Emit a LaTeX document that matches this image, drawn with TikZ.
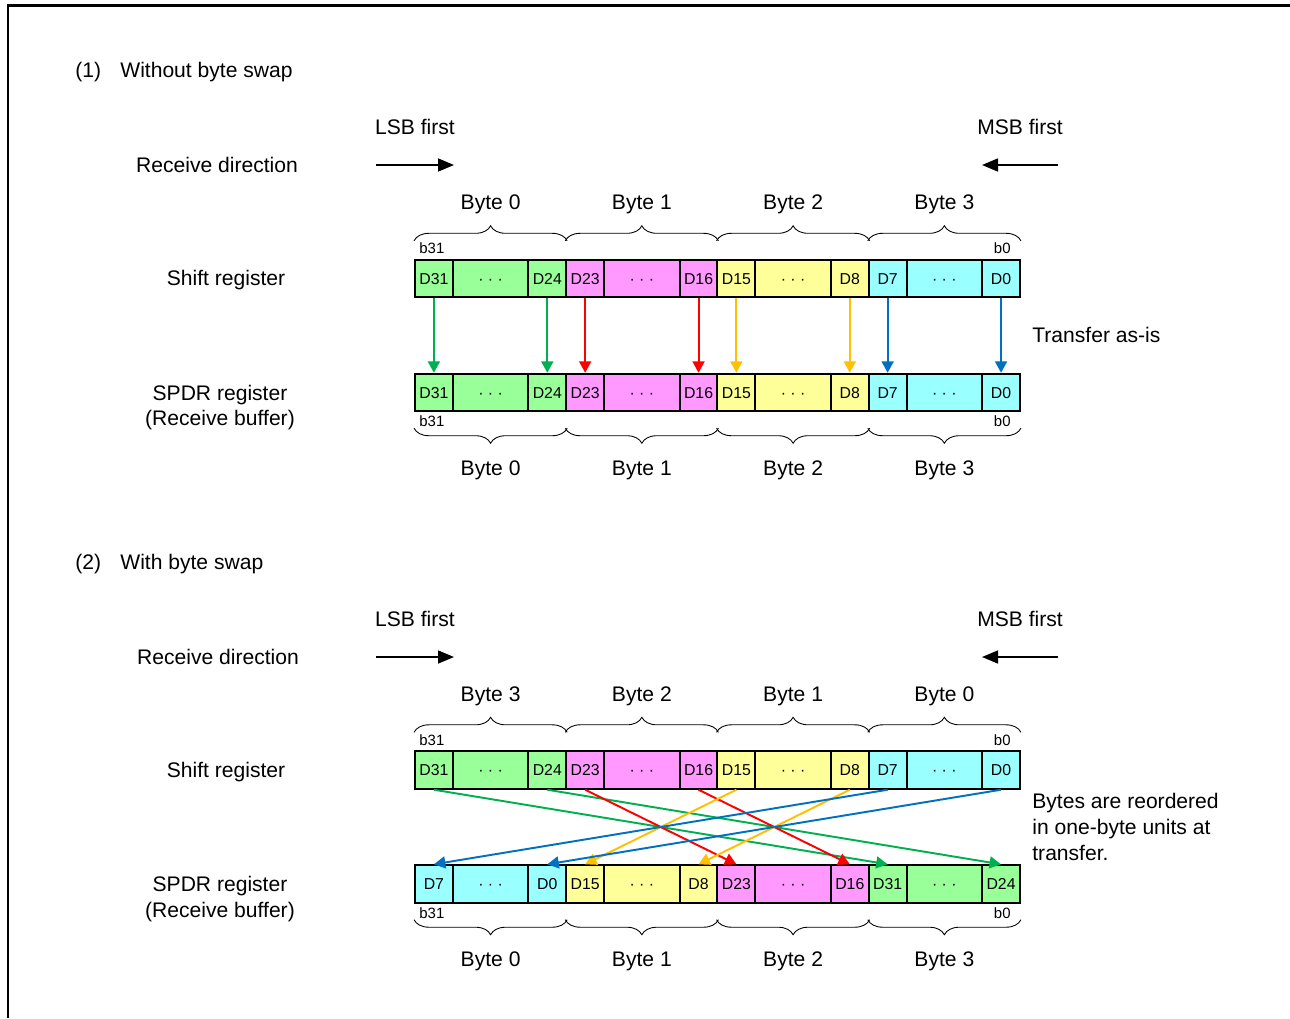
\documentclass[tikz,border=0pt]{standalone}
\usepackage{fontspec}
\setmainfont{Liberation Sans}
\usetikzlibrary{arrows.meta,positioning,decorations.pathreplacing,calc}
\definecolor{CellGreen}{HTML}{99FF99}
\definecolor{CellPink}{HTML}{FF99FF}
\definecolor{CellYellow}{HTML}{FFFF99}
\definecolor{CellCyan}{HTML}{99FFFF}
\definecolor{LineGreen}{HTML}{00B050}
\definecolor{LineRed}{HTML}{FF0000}
\definecolor{LineAmber}{HTML}{FFC000}
\definecolor{LineBlue}{HTML}{0070C0}

\begin{document}
\begin{tikzpicture}[x=0.02cm,y=-0.02cm,
    txt/.style={font=\fontsize{12}{14.7}\selectfont,inner sep=0pt},
    cell/.style={draw,line width=1.1pt,minimum height=0.75cm,inner sep=0pt,
      text height=6.5pt,text depth=0pt,font=\fontsize{9}{10}\selectfont},
    bit/.style={cell,minimum width=0.756cm},
    gap/.style={cell,minimum width=1.512cm},
    bitno/.style={font=\fontsize{8.5}{10}\selectfont,inner sep=0pt},
    bytebrace/.style={decorate,decoration={brace,amplitude=0.3cm},line width=0.5pt},
    dir/.style={line width=0.9pt,-{Triangle[length=3.2mm,width=2.6mm]}},
    move/.style={line width=1.1pt,-{Triangle[length=2.3mm,width=2.4mm]}}
  ]
    \useasboundingbox (0,0) rectangle (1290,1018);
    \draw[line width=0.06cm] (1290,5) -- (8,5) -- (8,1018);

    \node[txt,anchor=west] (num1) at (75,72) {(1)};
    \node[txt,anchor=west] (head1) at (120,72) {Without byte swap};
    \node[txt] (lsb1) at (415,127) {LSB first};
    \node[txt] (msb1) at (1020,127) {MSB first};
    \coordinate (lsbA1) at (376,165);
    \coordinate (lsbB1) at (454,165);
    \coordinate (msbA1) at (1058,165);
    \coordinate (msbB1) at (982,165);
    \draw[dir] (lsbA1) -- (lsbB1);
    \draw[dir] (msbA1) -- (msbB1);
    \node[txt] (dir1) at (217,165) {Receive direction};
    \node[txt] (shift1) at (226,280.5) {Shift register};
    \node[txt,align=center] (spdr1) at (220,407.5) {SPDR register\\(Receive buffer)};
    \node[txt,anchor=west] (note1) at (1032,335) {Transfer as-is};

    \foreach \b/\hi/\lo/\c in {0/31/24/CellGreen,1/23/16/CellPink,2/15/8/CellYellow,3/7/0/CellCyan}{
      \node[bit,fill=\c] (sD\hi) at (433.9+151.25*\b,278.5) {D\hi};
      \node[gap,fill=\c] (sM\b) at (490.6+151.25*\b,278.5) {· · ·};
      \node[bit,fill=\c] (sD\lo) at (547.3+151.25*\b,278.5) {D\lo};
      \node[bit,fill=\c] (rD\hi) at (433.9+151.25*\b,392.5) {D\hi};
      \node[gap,fill=\c] (rM\b) at (490.6+151.25*\b,392.5) {· · ·};
      \node[bit,fill=\c] (rD\lo) at (547.3+151.25*\b,392.5) {D\lo};
    }
    \node[bitno,anchor=south west] (sB31) at ([xshift=0.1cm,yshift=0.09cm]sD31.north west) {b31};
    \node[bitno,anchor=south east] (sB0) at ([xshift=-0.2cm,yshift=0.09cm]sD0.north east) {b0};
    \node[bitno,anchor=north west] (rB31) at ([xshift=0.1cm,yshift=-0.07cm]rD31.south west) {b31};
    \node[bitno,anchor=north east] (rB0) at ([xshift=-0.2cm,yshift=-0.07cm]rD0.south east) {b0};
    \foreach \a/\b/\t in {31/24/0,23/16/1,15/8/2,7/0/3}{
      \draw[bytebrace] ([yshift=0.36cm]sD\a.north west) -- ([yshift=0.36cm]sD\b.north east);
      \node[txt] (sByte\t) at ($(sD\a.north west)!0.5!(sD\b.north east)+(0,-54)$) {Byte \t};
      \draw[bytebrace] ([yshift=-0.32cm]rD\b.south east) -- ([yshift=-0.32cm]rD\a.south west);
      \node[txt] (rByte\t) at ($(rD\a.south west)!0.5!(rD\b.south east)+(0,58)$) {Byte \t};
    }
    \foreach \n/\c in {31/LineGreen,24/LineGreen,23/LineRed,16/LineRed,15/LineAmber,8/LineAmber,7/LineBlue,0/LineBlue}
      \draw[move,\c] (sD\n.south) -- (rD\n.north);

    \node[txt,anchor=west] (num2) at (75,564) {(2)};
    \node[txt,anchor=west] (head2) at (120,564) {With byte swap};
    \node[txt] (lsb2) at (415,619) {LSB first};
    \node[txt] (msb2) at (1020,619) {MSB first};
    \coordinate (lsbA2) at (376,657);
    \coordinate (lsbB2) at (454,657);
    \coordinate (msbA2) at (1058,657);
    \coordinate (msbB2) at (982,657);
    \draw[dir] (lsbA2) -- (lsbB2);
    \draw[dir] (msbA2) -- (msbB2);
    \node[txt] (dir2) at (218,657) {Receive direction};
    \node[txt] (shift2) at (226,772) {Shift register};
    \node[txt,align=center] (spdr2) at (220,899) {SPDR register\\(Receive buffer)};
    \node[txt,anchor=west,align=left] (note2) at (1032,827) {Bytes are reordered\\in one-byte units at\\transfer.};

    \foreach \b/\hi/\lo/\c in {0/31/24/CellGreen,1/23/16/CellPink,2/15/8/CellYellow,3/7/0/CellCyan}{
      \node[bit,fill=\c] (tD\hi) at (433.9+151.25*\b,770) {D\hi};
      \node[gap,fill=\c] (tM\b) at (490.6+151.25*\b,770) {· · ·};
      \node[bit,fill=\c] (tD\lo) at (547.3+151.25*\b,770) {D\lo};
    }
    \foreach \b/\hi/\lo/\c in {0/7/0/CellCyan,1/15/8/CellYellow,2/23/16/CellPink,3/31/24/CellGreen}{
      \node[bit,fill=\c] (uD\hi) at (433.9+151.25*\b,884) {D\hi};
      \node[gap,fill=\c] (uM\b) at (490.6+151.25*\b,884) {· · ·};
      \node[bit,fill=\c] (uD\lo) at (547.3+151.25*\b,884) {D\lo};
    }
    \node[bitno,anchor=south west] (tB31) at ([xshift=0.1cm,yshift=0.09cm]tD31.north west) {b31};
    \node[bitno,anchor=south east] (tB0) at ([xshift=-0.2cm,yshift=0.09cm]tD0.north east) {b0};
    \node[bitno,anchor=north west] (uB31) at ([xshift=0.1cm,yshift=-0.07cm]uD7.south west) {b31};
    \node[bitno,anchor=north east] (uB0) at ([xshift=-0.2cm,yshift=-0.07cm]uD24.south east) {b0};
    \foreach \a/\b/\t in {31/24/3,23/16/2,15/8/1,7/0/0}{
      \draw[bytebrace] ([yshift=0.36cm]tD\a.north west) -- ([yshift=0.36cm]tD\b.north east);
      \node[txt] (tByte\t) at ($(tD\a.north west)!0.5!(tD\b.north east)+(0,-54)$) {Byte \t};
    }
    \foreach \a/\b/\t in {7/0/0,15/8/1,23/16/2,31/24/3}{
      \draw[bytebrace] ([yshift=-0.32cm]uD\b.south east) -- ([yshift=-0.32cm]uD\a.south west);
      \node[txt] (uByte\t) at ($(uD\a.south west)!0.5!(uD\b.south east)+(0,58)$) {Byte \t};
    }
    \foreach \n/\c in {31/LineGreen,24/LineGreen,23/LineRed,16/LineRed,15/LineAmber,8/LineAmber,7/LineBlue,0/LineBlue}
      \draw[move,\c] (tD\n.south) -- (uD\n.north);
  \end{tikzpicture}
\end{document}
